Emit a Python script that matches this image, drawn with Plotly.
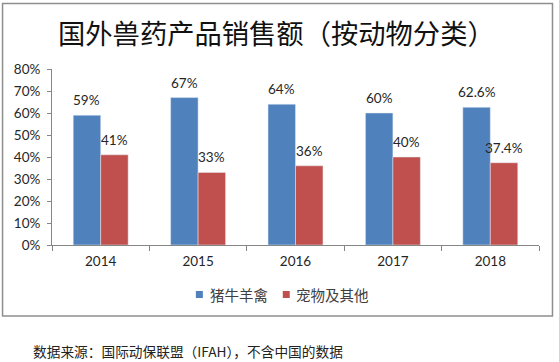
import plotly.graph_objects as go

years = ["2014", "2015", "2016", "2017", "2018"]
livestock = [0.59, 0.67, 0.64, 0.60, 0.626]
pets = [0.41, 0.33, 0.36, 0.40, 0.374]
livestock_labels = ["59%", "67%", "64%", "60%", "62.6%"]
pets_labels = ["41%", "33%", "36%", "40%", "37.4%"]
series_names = ["猪牛羊禽", "宠物及其他"]
colors = ["#4F81BD", "#C0504D"]
title_text = "国外兽药产品销售额（按动物分类）"
source_text = "数据来源：国际动保联盟（IFAH），不含中国的数据"

W, H = 559, 362
ml, mr, mt, mb = 52, 19.5, 69, 117
pw = W - ml - mr
ph = H - mt - mb

fig = go.Figure()
fig.add_trace(go.Bar(x=years, y=livestock, name=series_names[0], marker_color=colors[0]))
fig.add_trace(go.Bar(x=years, y=pets, name=series_names[1], marker_color=colors[1]))

label_font = dict(family="Lato, Open Sans, sans-serif", size=13.5, color="#262626")
bar_px = pw / len(years) * (1 - 0.436) / 2
for vals, labs, sgn in [(livestock, livestock_labels, -1), (pets, pets_labels, 1)]:
    for i, (v, t) in enumerate(zip(vals, labs)):
        fig.add_annotation(x=i, y=v, text=t, showarrow=False, xref="x", yref="y",
                           xshift=sgn * bar_px / 2, yshift=15, yanchor="middle", font=label_font)

def px_to_paper(xp, yp):
    return (xp - ml) / pw, (H - mb - yp) / ph

# outer frame
x0, y0 = px_to_paper(2.5, 3.5)
x1, y1 = px_to_paper(553, 316)
fig.add_shape(type="rect", xref="paper", yref="paper", x0=x0, y0=y1, x1=x1, y1=y0,
              line=dict(color="#8E8E8E", width=1.5), layer="below")

# title
tx, ty = px_to_paper(277, 32)
fig.add_annotation(text=title_text, xref="paper", yref="paper", x=tx, y=ty, showarrow=False,
                   xanchor="center", yanchor="middle",
                   font=dict(family="Noto Sans CJK SC", size=27.3, color="#111111"))

# source note
sx, sy = px_to_paper(31, 351)
fig.add_annotation(text=source_text, xref="paper", yref="paper", x=sx, y=sy, showarrow=False,
                   xanchor="left", yanchor="middle",
                   font=dict(family="Noto Sans CJK SC", size=13.7, color="#222222"))

# custom legend
legend_items = [(series_names[0], colors[0], 196, 208), (series_names[1], colors[1], 283, 294)]
for name, col, sq_x, txt_x in legend_items:
    ax0, ay0 = px_to_paper(sq_x, 298)
    ax1, ay1 = px_to_paper(sq_x + 7, 291)
    fig.add_shape(type="rect", xref="paper", yref="paper", x0=ax0, y0=ay0, x1=ax1, y1=ay1,
                  line=dict(width=0), fillcolor=col)
    lx, ly = px_to_paper(txt_x, 294.5)
    fig.add_annotation(text=name, xref="paper", yref="paper", x=lx, y=ly, showarrow=False,
                       xanchor="left", yanchor="middle",
                       font=dict(family="Noto Sans CJK SC", size=14.5, color="#404040"))

tick_font = dict(family="Lato, Open Sans, sans-serif", size=13.5, color="#262626")
fig.update_layout(
    width=W, height=H,
    margin=dict(l=ml, r=mr, t=mt, b=mb, autoexpand=False),
    paper_bgcolor="white", plot_bgcolor="white",
    barmode="group", bargap=0.436, bargroupgap=0,
    showlegend=False,
    xaxis=dict(type="category", range=[-0.5, len(years) - 0.5], showline=True,
               linecolor="#868686", linewidth=1, ticks="outside",
               tickson="boundaries", ticklen=5, tickcolor="#868686",
               tickfont=tick_font, ticklabelstandoff=4, showgrid=False),
    yaxis=dict(range=[0, 0.8], dtick=0.1, tickformat=".0%", showline=True, linecolor="#868686",
               linewidth=1, ticks="outside", ticklen=4, tickcolor="#868686", showgrid=False,
               zeroline=False, tickfont=tick_font, ticklabelstandoff=4),
)
fig.write_html("out.html", config={"displayModeBar": False},
               post_script="document.body.style.margin='0';")
